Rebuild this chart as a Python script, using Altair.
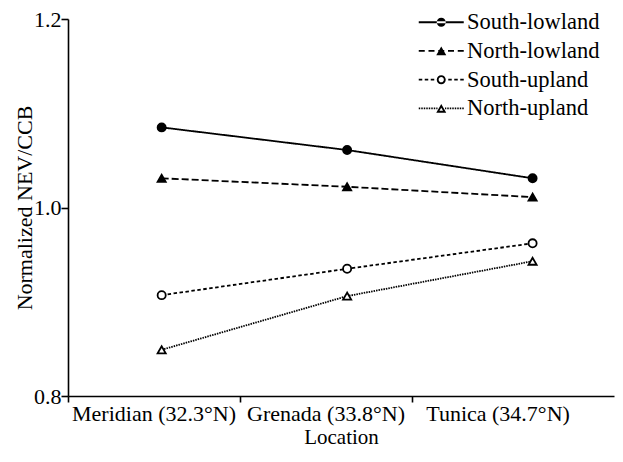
import altair as alt
import pandas as pd

locations = ["Meridian (32.3°N)", "Grenada (33.8°N)", "Tunica (34.7°N)"]
series = ["South-lowland", "North-lowland", "South-upland", "North-upland"]
south_lowland = [1.085, 1.061, 1.031]
north_lowland = [1.031, 1.022, 1.011]
south_upland = [0.907, 0.935, 0.962]
north_upland = [0.849, 0.906, 0.943]
y_ticks = [0.8, 1.0, 1.2]

rows = []
for name, vals in zip(series, [south_lowland, north_lowland, south_upland, north_upland]):
    for loc, v in zip(locations, vals):
        rows.append({"Location": loc, "Series": name, "Value": v})
df = pd.DataFrame(rows)

# styles
dashes = [[1, 0], [7, 3], [3.5, 2.5], [1.5, 1]]
shapes = ["circle", "triangle-up", "circle", "triangle-up"]
fills = ["black", "black", "white", "white"]
FONT = "Liberation Serif"

# ---- legend symbols drawn as filled geometry (units: 1 = 5 px at symbolSize 100)
T = 0.18  # half line thickness


def rect(a, b):
    lo, hi = min(a, b), max(a, b)
    return f"M{lo:.3f},{-T}L{hi:.3f},{-T}L{hi:.3f},{T}L{lo:.3f},{T}Z"


def segs(a, b, dash, gap):
    if dash is None:
        return rect(a, b)
    out, step, x = [], (1 if b > a else -1), a
    while (x - b) * step < 0:
        e = x + step * dash
        if (e - b) * step > 0:
            e = b
        out.append(rect(x, e))
        x = e + step * gap
    return "".join(out)


def circle(r, sweep):
    return f"M{-r},0A{r},{r} 0 1,{sweep} {r},0A{r},{r} 0 1,{sweep} {-r},0Z"


def triangle(s, cy=0.0, inner=False):
    pts = [(0.0, -0.87), (1.0, 0.87), (-1.0, 0.87)]
    pts = [(x * s, cy + (y - cy) * s) for x, y in pts]
    if inner:
        pts = [pts[0], pts[2], pts[1]]
    return "M" + "L".join(f"{x:.3f},{y:.3f}" for x, y in pts) + "Z"


def legend_symbol(dash, gap, marker, open_, half=4.5):
    if marker == "circle":
        r = 0.9
        m = circle(r, 0) + (circle(r - 0.38, 1) if open_ else "")
        edge = r if open_ else 0.0
    else:
        m = triangle(1.0) + (triangle(0.36, 0.291, inner=True) if open_ else "")
        edge = 0.75 if open_ else 0.0
    return segs(-half, -edge, dash, gap) + segs(half, edge, dash, gap) + m


legend_paths = [
    legend_symbol(None, None, "circle", False),
    legend_symbol(1.2, 0.75, "triangle", False),
    legend_symbol(0.7, 0.5, "circle", True),
    legend_symbol(0.3, 0.2, "triangle", True),
]

y_scale = alt.Scale(domain=[0.8, 1.2], nice=False, zero=False)
y_axis = alt.Axis(values=y_ticks, format=".1f", title="Normalized NEV/CCB",
                  tickSize=7, labelPadding=0, titlePadding=-3)
y_enc = alt.Y("Value:Q", scale=y_scale, axis=y_axis)
x_pts = alt.X("Location:N", sort=locations,
              scale=alt.Scale(type="point", domain=locations, padding=0.472, align=0.535),
              axis=None)

base = alt.Chart(df)

lines = base.mark_line(color="black", strokeWidth=1.8).encode(
    x=x_pts, y=y_enc,
    strokeDash=alt.StrokeDash("Series:N", scale=alt.Scale(domain=series, range=dashes), legend=None),
    detail="Series:N",
)

point_layers = []
for name, shp, fl in zip(series, shapes, fills):
    point_layers.append(
        base.transform_filter(alt.datum.Series == name)
        .mark_point(shape=shp, fill=fl, size=66, stroke="black", strokeWidth=1.8, opacity=1, fillOpacity=1)
        .encode(x=x_pts, y=y_enc)
    )

leg = alt.Legend(title=None, orient="none", legendX=362, legendY=-8, symbolSize=100,
                 symbolStrokeWidth=0, symbolOpacity=1, symbolFillColor="black",
                 labelFont=FONT, labelFontSize=22.5, labelColor="black", labelOffset=14.5,
                 rowPadding=5.7, padding=0)

legend_layer = base.mark_point(size=0, filled=True, color="black", opacity=1).encode(
    x=x_pts, y=y_enc,
    shape=alt.Shape("Series:N", scale=alt.Scale(domain=series, range=legend_paths), legend=leg),
)

axis_layer = base.mark_point(size=0, filled=True, color="black", opacity=1).encode(
    x=alt.X("Location:N", sort=locations,
            scale=alt.Scale(type="band", domain=locations, paddingInner=0, paddingOuter=0.087, align=0),
            axis=alt.Axis(orient="bottom", title="Location", bandPosition=0, tickSize=6,
                          labelPadding=1, titlePadding=2, labelAngle=0, titleFontSize=21)),
    y=y_enc,
)

chart = alt.layer(lines, *point_layers, legend_layer, axis_layer).resolve_scale(
    x="independent", shape="independent"
).properties(
    width=546, height=377,
    autosize=alt.AutoSizeParams(type="none"),
    padding={"left": 60, "top": 11, "right": 1, "bottom": 52},
).configure(font=FONT).configure_view(stroke=None).configure_axis(
    labelFont=FONT, titleFont=FONT, labelFontSize=22, titleFontSize=22,
    titleFontWeight="normal", labelColor="black", titleColor="black",
    domainColor="black", tickColor="black", domainWidth=1.6, tickWidth=1.6, grid=False,
).configure_legend(labelFont=FONT, labelFontSize=22.5, labelColor="black")

chart.save("out.html", embed_options={"renderer": "svg", "actions": False})
